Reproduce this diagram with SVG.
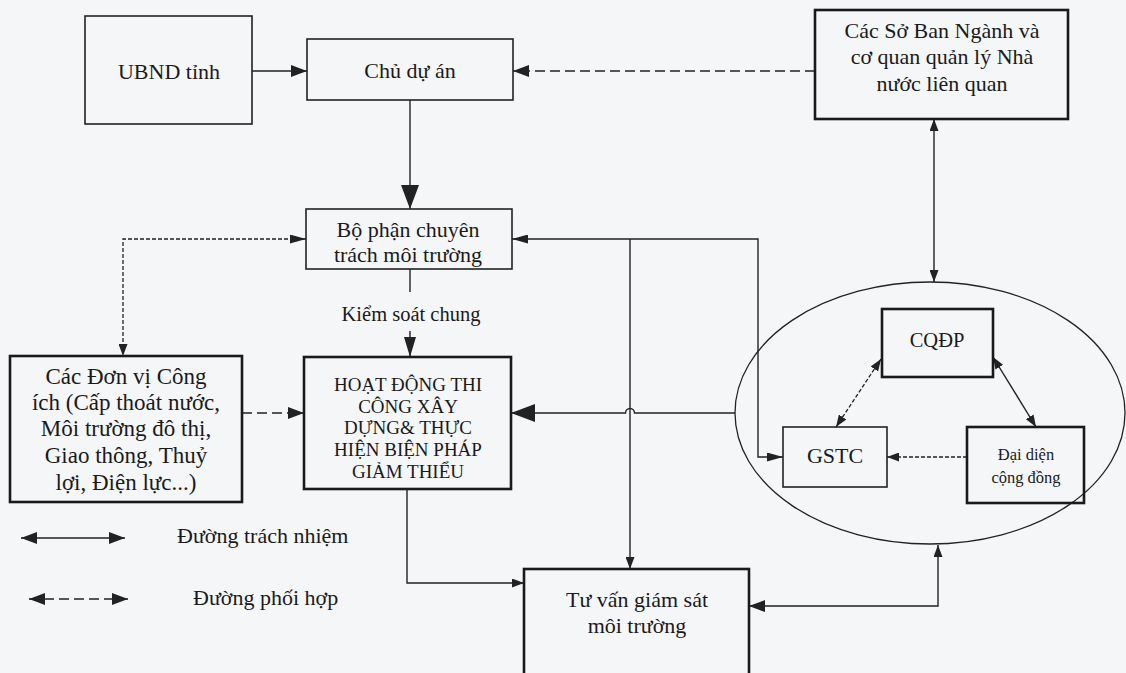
<svg xmlns="http://www.w3.org/2000/svg" width="1126" height="673" viewBox="0 0 1126 673">
<defs>
<style>
.bx{fill:none;stroke:#222;stroke-width:1.6}
.bk{fill:none;stroke:#1a1a1a;stroke-width:2.6}
.t{font-family:"Liberation Serif","Times New Roman",serif;fill:#1a1a1a;text-anchor:middle}
.t23{font-size:23px}
.t22{font-size:22px}
.t20{font-size:20.5px}
.t18{font-size:19px}
.t16{font-size:16.5px}
.ln{fill:none;stroke:#222;stroke-width:1.4}
.dl{fill:none;stroke:#222;stroke-width:1.6;stroke-dasharray:10 5}
.df{fill:none;stroke:#222;stroke-width:1.3;stroke-dasharray:4 2}
</style>
<marker id="aL" markerUnits="userSpaceOnUse" markerWidth="24" markerHeight="18" refX="24" refY="9" orient="auto-start-reverse"><path d="M0,0 L24,9 L0,18 z" fill="#222"/></marker>
<marker id="aN" markerUnits="userSpaceOnUse" markerWidth="20" markerHeight="12" refX="20" refY="6" orient="auto-start-reverse"><path d="M0,0 L20,6 L0,12 z" fill="#222"/></marker>
<marker id="aM" markerUnits="userSpaceOnUse" markerWidth="16" markerHeight="12" refX="16" refY="6" orient="auto-start-reverse"><path d="M0,0 L16,6 L0,12 z" fill="#222"/></marker>
<marker id="aP" markerUnits="userSpaceOnUse" markerWidth="16" markerHeight="9" refX="16" refY="4.5" orient="auto-start-reverse"><path d="M0,0 L16,4.5 L0,9 z" fill="#222"/></marker>
<marker id="aS" markerUnits="userSpaceOnUse" markerWidth="12" markerHeight="9" refX="12" refY="4.5" orient="auto-start-reverse"><path d="M0,0 L12,4.5 L0,9 z" fill="#222"/></marker>
</defs>
<rect width="1126" height="673" fill="#f5f6f8"/>

<g id="connectors">
<path class="ln" d="M252,71 H307" marker-end="url(#aM)"/>
<path class="dl" d="M815,71 H513" marker-end="url(#aM)"/>
<path class="ln" d="M410,100 V209" marker-end="url(#aL)"/>
<path class="df" d="M306,239 H123 V356" marker-start="url(#aP)" marker-end="url(#aS)"/>
<path class="ln" d="M410,269 V292"/>
<path class="ln" d="M410,331 V357" marker-end="url(#aN)"/>
<path class="dl" d="M242,413 H304" marker-end="url(#aM)"/>
<path class="ln" d="M783,457 H758 V239 H512" marker-start="url(#aP)" marker-end="url(#aP)"/>
<path class="ln" d="M630,239 V569" marker-end="url(#aS)"/>
<path class="ln" d="M735,413 H634.5 A4.5,4.5 0 0 0 625.5,413 H511" marker-end="url(#aL)"/>
<path class="ln" d="M407,489 V583 H524" marker-end="url(#aS)"/>
<path class="ln" d="M938,545 V606 H749" marker-start="url(#aS)" marker-end="url(#aM)"/>
<path class="ln" d="M934,119 V282" marker-start="url(#aS)" marker-end="url(#aS)"/>
<path class="df" d="M881,359 L836,427" marker-start="url(#aS)" marker-end="url(#aS)"/>
<path class="ln" d="M993,357 L1036,427" marker-start="url(#aS)" marker-end="url(#aS)"/>
<path class="df" d="M967,457 H887" marker-end="url(#aS)"/>
<path class="ln" d="M21,538 H125" marker-start="url(#aM)" marker-end="url(#aM)"/>
<path class="dl" d="M29,599 H128" marker-start="url(#aM)" marker-end="url(#aM)"/>
</g>

<g id="ubnd">
<rect class="bx" x="85" y="16" width="167" height="108"/>
<text class="t t22" x="169" y="79">UBND tỉnh</text>
</g>
<g id="chu-du-an">
<rect class="bx" x="307" y="39" width="206" height="61"/>
<text class="t t22" x="410" y="78">Chủ dự án</text>
</g>
<g id="so-ban-nganh">
<rect class="bk" x="815" y="10" width="253" height="109"/>
<text class="t t22" x="942" y="38">Các Sở Ban Ngành và</text>
<text class="t t22" x="942" y="64">cơ quan quản lý Nhà</text>
<text class="t t22" x="942" y="91">nước liên quan</text>
</g>
<g id="bo-phan">
<rect class="bx" x="306" y="209" width="206" height="60"/>
<text class="t t22" x="408" y="237">Bộ phận chuyên</text>
<text class="t t22" x="408" y="262">trách môi trường</text>
</g>
<g id="kiem-soat-label">
<text class="t t20" x="411" y="321">Kiểm soát chung</text>
</g>
<g id="don-vi-cong-ich">
<rect class="bk" x="10" y="356" width="232" height="146"/>
<text class="t t23" x="126" y="384">Các Đơn vị Công</text>
<text class="t t23" x="126" y="410">ích (Cấp thoát nước,</text>
<text class="t t23" x="126" y="436">Môi trường đô thị,</text>
<text class="t t23" x="126" y="463">Giao thông, Thuỷ</text>
<text class="t t23" x="126" y="490">lợi, Điện lực...)</text>
</g>
<g id="hoat-dong">
<rect class="bk" x="304" y="357" width="207" height="132"/>
<text class="t t18" x="408" y="391">HOẠT ĐỘNG THI</text>
<text class="t t18" x="408" y="413">CÔNG XÂY</text>
<text class="t t18" x="408" y="434">DỰNG&amp; THỰC</text>
<text class="t t18" x="408" y="456">HIỆN BIỆN PHÁP</text>
<text class="t t18" x="408" y="478">GIẢM THIỂU</text>
</g>
<g id="tu-van">
<rect class="bk" x="524" y="569" width="225" height="120"/>
<text class="t t22" x="637" y="607">Tư vấn giám sát</text>
<text class="t t22" x="637" y="633">môi trường</text>
</g>
<g id="cong-dong-ellipse">
<ellipse cx="930" cy="413" rx="195" ry="131" fill="none" stroke="#222" stroke-width="1.3"/>
</g>
<g id="cqdp">
<rect class="bk" x="882" y="309" width="111" height="68"/>
<text class="t t20" x="937" y="347">CQĐP</text>
</g>
<g id="gstc">
<rect class="bx" x="783" y="427" width="104" height="60"/>
<text class="t t22" x="835" y="463">GSTC</text>
</g>
<g id="dai-dien">
<rect class="bk" x="967" y="427" width="117" height="76"/>
<text class="t t16" x="1026" y="460">Đại diện</text>
<text class="t t16" x="1026" y="483">cộng đồng</text>
</g>
<g id="legend">
<text class="t t22" x="177" y="543" style="text-anchor:start">Đường trách nhiệm</text>
<text class="t t22" x="193" y="605" style="text-anchor:start">Đường phối hợp</text>
</g>
</svg>
